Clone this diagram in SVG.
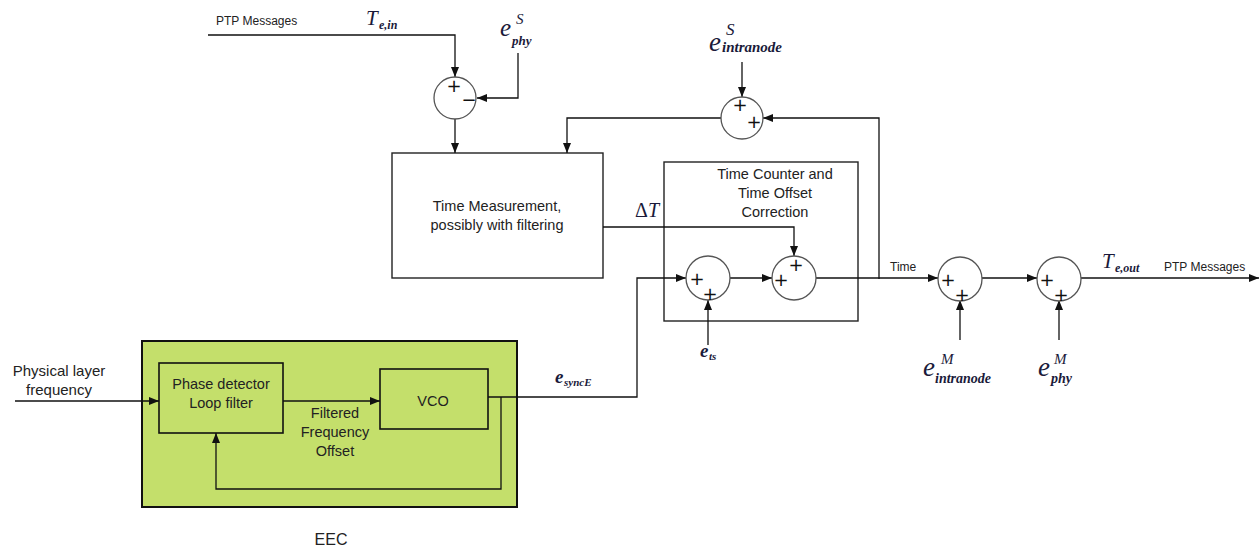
<svg xmlns="http://www.w3.org/2000/svg" width="1260" height="547" viewBox="0 0 1260 547">
<style>
.ln{fill:none;stroke:#111;stroke-width:1.3}
.bx{fill:#fff;stroke:#222;stroke-width:1.4}
.sum{fill:#fff;stroke:#555;stroke-width:1.3}
.t{font-family:"Liberation Sans",Arial,sans-serif;font-size:14.5px;fill:#222;text-anchor:middle}
.s{font-family:"Liberation Sans",Arial,sans-serif;font-size:12px;fill:#222}
.sg{font-family:"DejaVu Sans",sans-serif;font-size:18px;font-weight:normal;fill:#111;text-anchor:middle}
.m{font-family:"Liberation Serif","Times New Roman",serif;font-style:italic;fill:#1a1a3a}
.mb{font-family:"Liberation Serif","Times New Roman",serif;font-style:italic;font-weight:bold;fill:#1a1a3a}
</style>
<defs>
<marker id="ar" markerWidth="10" markerHeight="8" refX="10" refY="4" orient="auto" markerUnits="userSpaceOnUse">
<path d="M0,0 L10,4 L0,8 Z" fill="#111"/>
</marker>
</defs>
<rect width="1260" height="547" fill="#fff"/>

<g id="eec">
<rect x="142" y="341" width="375" height="166" fill="#c4df6b" stroke="#111" stroke-width="2"/>
<text class="t" x="331" y="545" style="font-size:16px">EEC</text>
</g>
<g id="phase-detector">
<rect x="159" y="363" width="124" height="70" fill="#c4df6b" stroke="#111" stroke-width="1.6"/>
<text class="t" x="221" y="389">Phase detector</text>
<text class="t" x="221" y="408">Loop filter</text>
</g>
<g id="vco">
<rect x="380" y="369" width="108" height="60" fill="#c4df6b" stroke="#111" stroke-width="1.6"/>
<text class="t" x="433" y="406">VCO</text>
</g>
<g id="filtered-label">
<text class="t" x="335" y="418">Filtered</text>
<text class="t" x="335" y="437">Frequency</text>
<text class="t" x="335" y="456">Offset</text>
</g>
<g id="time-measurement">
<rect class="bx" x="392" y="153" width="211" height="125"/>
<text class="t" x="497" y="211">Time Measurement,</text>
<text class="t" x="497" y="230">possibly with filtering</text>
</g>
<g id="time-counter">
<rect class="bx" x="664" y="162" width="194" height="159"/>
<text class="t" x="775" y="179">Time Counter and</text>
<text class="t" x="775" y="198">Time Offset</text>
<text class="t" x="775" y="217">Correction</text>
</g>

<g id="connectors">
<path class="ln" d="M208,35 H455 V77" marker-end="url(#ar)"/>
<path class="ln" d="M518,53 V98 H477" marker-end="url(#ar)"/>
<path class="ln" d="M455,119 V153" marker-end="url(#ar)"/>
<path class="ln" d="M721,118 H567 V153" marker-end="url(#ar)"/>
<path class="ln" d="M742,62 V97" marker-end="url(#ar)"/>
<path class="ln" d="M879,279 V118 H763" marker-end="url(#ar)"/>
<path class="ln" d="M603,227 H794 V256" marker-end="url(#ar)"/>
<path class="ln" d="M488,397 H637 V278 H686" marker-end="url(#ar)"/>
<path class="ln" d="M708,345 V300" marker-end="url(#ar)"/>
<path class="ln" d="M730,278 H772" marker-end="url(#ar)"/>
<path class="ln" d="M816,278 H938" marker-end="url(#ar)"/>
<path class="ln" d="M982,278 H1037" marker-end="url(#ar)"/>
<path class="ln" d="M1081,278 H1259" marker-end="url(#ar)"/>
<path class="ln" d="M960,340 V300" marker-end="url(#ar)"/>
<path class="ln" d="M1059,340 V300" marker-end="url(#ar)"/>
<path class="ln" d="M15,401 H159" stroke-width="2.2" marker-end="url(#ar)"/>
<path class="ln" d="M283,401 H380" stroke-width="1.6" marker-end="url(#ar)"/>
<path class="ln" d="M501,397 V489 H216 V433" stroke-width="1.6" marker-end="url(#ar)"/>
</g>

<g id="sum-a">
<circle class="sum" cx="455" cy="98" r="21"/>
<text class="sg" x="454" y="92">+</text>
<text class="sg" x="469" y="106">−</text>
</g>
<g id="sum-b">
<circle class="sum" cx="742" cy="118" r="21"/>
<text class="sg" x="740" y="111">+</text>
<text class="sg" x="754" y="128">+</text>
</g>
<g id="sum-c1">
<circle class="sum" cx="708" cy="278" r="22"/>
<text class="sg" x="697" y="285">+</text>
<text class="sg" x="710" y="300">+</text>
</g>
<g id="sum-c2">
<circle class="sum" cx="794" cy="278" r="22"/>
<text class="sg" x="781" y="286">+</text>
<text class="sg" x="796" y="271">+</text>
</g>
<g id="sum-c3">
<circle class="sum" cx="960" cy="279" r="22"/>
<text class="sg" x="948" y="286">+</text>
<text class="sg" x="962" y="301">+</text>
</g>
<g id="sum-c4">
<circle class="sum" cx="1059" cy="279" r="22"/>
<text class="sg" x="1047" y="286">+</text>
<text class="sg" x="1061" y="301">+</text>
</g>

<g id="labels">
<text class="s" x="216" y="25">PTP Messages</text>
<text class="s" x="1164" y="271">PTP Messages</text>
<text class="s" x="890" y="271">Time</text>
<text class="t" x="59" y="376" style="font-size:15px">Physical layer</text>
<text class="t" x="59" y="395" style="font-size:15px">frequency</text>

<text class="m" x="366" y="25" font-size="21">T</text>
<text class="mb" x="379" y="29" font-size="12">e,in</text>

<text class="m" x="500" y="36" font-size="25">e</text>
<text class="m" x="516" y="24" font-size="15">S</text>
<text class="mb" x="512" y="45" font-size="13">phy</text>

<text class="m" x="709" y="51" font-size="27">e</text>
<text class="m" x="726" y="35" font-size="17">S</text>
<text class="mb" x="722" y="52" font-size="15">intranode</text>

<text x="635" y="217" font-size="20" font-family="Liberation Serif,serif" fill="#1a1a3a">Δ<tspan font-style="italic">T</tspan></text>

<text class="mb" x="700" y="357" font-size="19">e</text>
<text class="mb" x="709" y="360" font-size="11">ts</text>

<text class="mb" x="555" y="383" font-size="19">e</text>
<text class="mb" x="564" y="386" font-size="11">syncE</text>

<text class="m" x="1102" y="268" font-size="21">T</text>
<text class="mb" x="1115" y="272" font-size="12">e,out</text>

<text class="m" x="923" y="376" font-size="27">e</text>
<text class="m" x="941" y="364" font-size="15">M</text>
<text class="mb" x="935" y="383" font-size="14">intranode</text>

<text class="m" x="1038" y="376" font-size="27">e</text>
<text class="m" x="1054" y="364" font-size="15">M</text>
<text class="mb" x="1051" y="383" font-size="14">phy</text>
</g>
</svg>
